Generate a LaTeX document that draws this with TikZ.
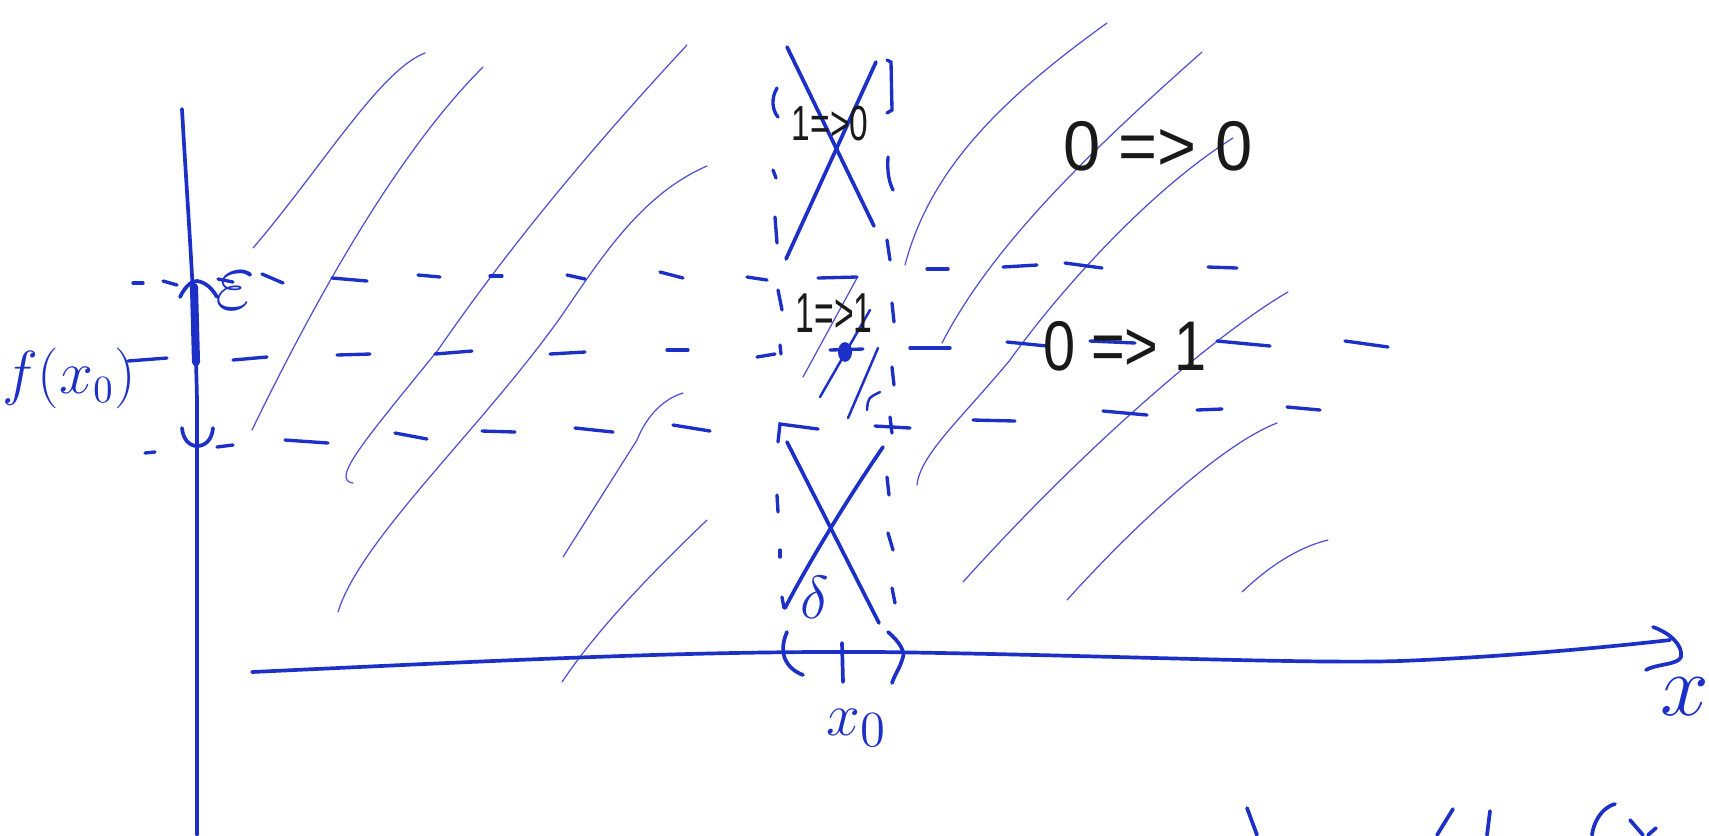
\documentclass[tikz,border=0pt]{standalone}
\usepackage{fontspec}
\usepackage{graphicx}
\newfontfamily\handfont{Liberation Sans}
\definecolor{inkblue}{RGB}{28,48,200}
\definecolor{hatchblue}{RGB}{80,80,210}
\definecolor{inkblack}{RGB}{25,25,25}
\begin{document}
\begin{tikzpicture}[x=0.01cm,y=-0.01cm,
  ink/.style={draw=inkblue,line width=1.05pt,line cap=round,line join=round},
  dashink/.style={draw=inkblue,line width=0.95pt,line cap=round},
  midink/.style={draw=inkblue,line width=0.7pt,line cap=round},
  hatch/.style={draw=hatchblue,line width=0.35pt,line cap=round},
  btxt/.style={text=inkblack,inner sep=0pt,anchor=base,font=\handfont},
  mtxt/.style={text=inkblue,inner sep=0pt}]
\useasboundingbox (0,0) rectangle (1709,835);
\fill[white] (0,0) rectangle (1709,835);
\clip (0,0) rectangle (1709,835);

% ---------- hatch lines ----------
\draw[hatch] (253,248) .. controls (320,170) and (380,70) .. (425,53);
\draw[hatch] (252,430) .. controls (320,290) and (400,150) .. (483,67);
\draw[hatch] (687,45) .. controls (580,160) and (500,260) .. (438,350) .. controls (365,440) and (330,480) .. (353,483);
\draw[hatch] (707,166) .. controls (640,195) and (600,260) .. (560,318) .. controls (480,430) and (360,540) .. (338,612);
\draw[hatch] (683,393) .. controls (660,400) and (645,420) .. (637,440) -- (563,557);
\draw[hatch] (707,520) .. controls (660,565) and (600,625) .. (562,682);
\draw[hatch] (905,265) .. controls (930,170) and (1000,100) .. (1107,23);
\draw[hatch] (942,343) .. controls (990,250) and (1080,160) .. (1202,52);
\draw[hatch] (1233,138) .. controls (1150,190) and (1060,290) .. (1010,360) .. controls (960,420) and (920,455) .. (917,485);
\draw[hatch] (1288,292) .. controls (1230,325) and (1100,430) .. (963,582);
\draw[hatch] (1277,423) .. controls (1220,445) and (1130,530) .. (1067,600);
\draw[hatch] (1328,540) .. controls (1295,548) and (1265,570) .. (1242,592);
% hatch strokes near x0
\draw[hatch] (857,278) -- (803,377);
\draw[midink] (820,397) -- (870,310);
\draw[midink] (848,418) -- (878,348);
\draw[midink] (867,410) .. controls (868,398) .. (880,392);

% ---------- axes ----------
\draw[ink] (182,109) .. controls (187,200) and (195,300) .. (197,400) -- (197,835);
\draw[ink] (252,672) .. controls (550,658) and (700,651) .. (880,652) .. controls (1100,655) and (1300,664) .. (1400,661) .. controls (1500,657) and (1600,648) .. (1670,640);
\draw[ink] (1653,627) .. controls (1670,633) and (1683,645) .. (1681,657) .. controls (1678,665) and (1655,664) .. (1646,670);

% epsilon bracket on y axis
\draw[draw=inkblue,line width=2.3pt,line cap=round] (194,287) -- (196,362);
\draw[ink] (180,297) .. controls (186,285) and (192,281) .. (197,281) .. controls (205,282) and (212,288) .. (217,297);
\draw[ink] (182,428) .. controls (183,440) and (190,446) .. (197,446) .. controls (205,446) and (212,440) .. (213,428);

% ---------- horizontal dashed lines ----------
\foreach \a/\b/\c/\d in {133/283/143/283, 163/281/177/285, 218/279/233/282,
  262/274/283/283, 332/278/367/281, 418/275/440/277, 490/276/502/276,
  567/275/585/279, 660/272/683/278, 747/277/767/280, 818/278/857/277,
  927/269/948/269, 1003/267/1037/265, 1065/263/1102/268, 1208/267/1237/268}
  \draw[dashink] (\a,\b) -- (\c,\d);
\foreach \a/\b/\c/\d in {128/361/167/358, 233/360/267/357, 337/355/370/354,
  435/354/472/351, 550/354/585/352, 667/350/688/350, 757/357/775/354,
  830/350/863/349, 910/348/950/348, 1007/342/1047/346, 1090/341/1135/343,
  1217/341/1270/346, 1345/341/1388/347}
  \draw[dashink] (\a,\b) -- (\c,\d);
\foreach \a/\b/\c/\d in {145/453/155/452, 217/447/233/445, 285/440/328/443,
  395/433/427/439, 482/431/515/432, 575/428/613/432, 673/425/710/431,
  875/426/910/428, 973/420/1015/421, 1103/411/1147/415, 1197/410/1222/409,
  1287/407/1320/410}
  \draw[dashink] (\a,\b) -- (\c,\d);
\draw[dashink] (778,442) -- (780,424) -- (818,429);

% ---------- vertical dashed lines (delta band) ----------
\draw[dashink] (777,88) .. controls (771,98) and (772,110) .. (778,117);
\foreach \a/\b/\c/\d in {773/170/776/178, 775/217/777/243, 778/290/782/310,
  780/345/781/354, 777/495/778/512, 780/550/780/557, 782/597/784/608}
  \draw[dashink] (\a,\b) -- (\c,\d);
\draw[ink] (787,632) .. controls (778,652) and (785,668) .. (803,675);
\draw[dashink] (887,60) -- (891,62) -- (892,110) -- (887,113);
\draw[dashink] (888,157) .. controls (887,172) and (889,182) .. (893,190);
\foreach \a/\b/\c/\d in {887/240/890/260, 892/303/894/322, 892/367/894/385,
  890/417/892/433, 887/477/889/495, 888/533/893/550, 892/588/895/603}
  \draw[dashink] (\a,\b) -- (\c,\d);
\draw[ink] (888,632) .. controls (900,642) and (905,652) .. (903,657) .. controls (900,668) and (894,676) .. (892,683);
\draw[ink] (842,643) -- (843,682);

% ---------- crosses ----------
\draw[ink] (787,47) -- (874,226);
\draw[ink] (876,62) -- (786,259);
\draw[ink] (787,442) -- (879,623);
\draw[ink] (883,447) .. controls (850,495) and (810,560) .. (785,608);

% dot at (x0, f(x0))
\fill[inkblue] (845,352) ellipse [x radius=2pt, y radius=2.8pt];

% ---------- texts ----------
\node[btxt] (t10) at (830,140) {\fontsize{14}{14}\selectfont\scalebox{0.68}[1]{1=>0}};
\node[btxt] (t11) at (834,332) {\fontsize{16}{16}\selectfont\scalebox{0.6}[1]{1=>1}};
\node[btxt] (t00) at (1158,170) {\fontsize{20}{20}\selectfont\scalebox{0.95}[1]{0 => 0}};
\node[btxt] (t01) at (1125,370) {\fontsize{20}{20}\selectfont\scalebox{0.82}[1]{0 => 1}};

\node[mtxt] (eps) at (236,291) {\fontsize{25}{25}\selectfont$\varepsilon$};
\node[mtxt] (fx0) at (69,378) {\fontsize{16}{16}\selectfont$f(x_0)$};
\node[mtxt] (x0) at (857,728) {\fontsize{19}{19}\selectfont$x_0$};
\node[mtxt] (del) at (815,597) {\fontsize{16}{16}\selectfont$\delta$};
\node[mtxt] (xlab) at (1685,697) {\fontsize{24}{24}\selectfont$x$};

% ---------- partial handwriting at bottom edge ----------
\draw[ink] (1247,808) -- (1257,835);
\draw[ink] (1453,809) -- (1437,835);
\draw[ink] (1490,811) -- (1487,835);
\draw[ink] (1615,804) .. controls (1600,808) and (1593,825) .. (1592,835);
\draw[ink] (1630,820) -- (1643,835);
\draw[ink] (1656,828) -- (1648,835);
\end{tikzpicture}
\end{document}
